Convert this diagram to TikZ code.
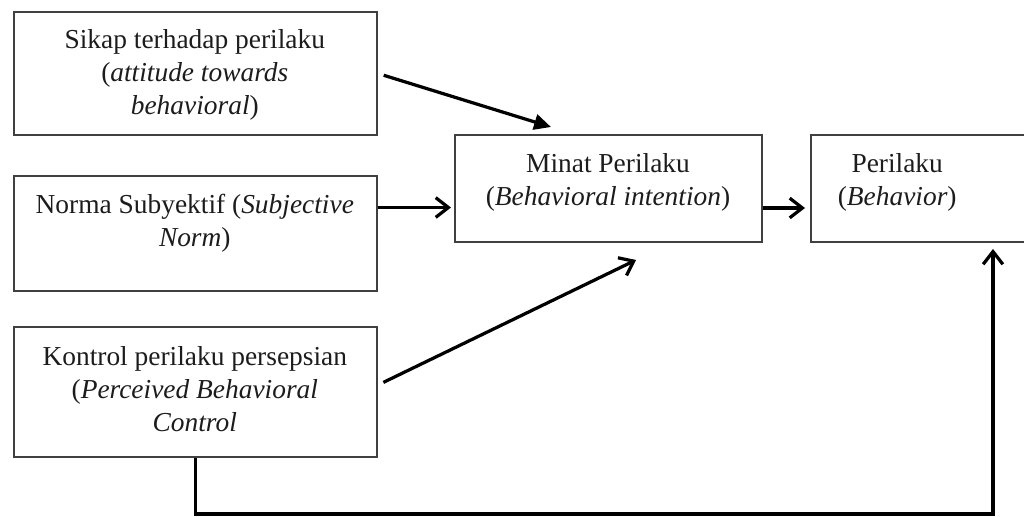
\documentclass[tikz,border=0pt]{standalone}
\usepackage{fontspec}
\setmainfont{Liberation Serif}
\definecolor{tpbBorder}{HTML}{404040}
\definecolor{tpbInk}{HTML}{1C1C1C}
\usetikzlibrary{calc,arrows.meta}

\begin{document}
\begin{tikzpicture}[
  tpbBox/.style={draw=tpbBorder, line width=1.4pt, minimum width=9.075cm},
  tpbText/.style={font=\fontsize{19.5}{23.5}\selectfont, text=tpbInk, align=center},
  link/.style={line width=2.3pt, -{Straight Barb[length=9pt,width=14pt]}},
]
  \useasboundingbox (0,0) rectangle (25.6,12.9);
  % three determinant boxes on the left
  \node[tpbBox, minimum height=3.075cm] (att) at (4.8875,11.0625) {};
  \node[tpbBox, minimum height=2.875cm] (norm) at (4.8875,7.0625) {};
  \node[tpbBox, minimum height=3.25cm] (pbc) at (4.8875,3.1) {};
  % intention and behaviour
  \node[tpbBox, minimum width=7.675cm, minimum height=2.675cm] (int) at (15.2125,8.1875) {};
  \node[tpbBox, minimum width=5.6cm, minimum height=2.675cm] (beh) at (23.075,8.1875) {};
  % box texts
  \node[tpbText] (att-t) at (4.87,11.03) {Sikap terhadap perilaku\\(\textit{attitude towards}\\\textit{behavioral})};
  \node[tpbText] (norm-t) at (4.87,7.33) {Norma Subyektif (\textit{Subjective}\\\textit{Norm})};
  \node[tpbText] (pbc-t) at (4.87,3.18) {Kontrol perilaku persepsian\\(\textit{Perceived Behavioral}\\\textit{Control}};
  \node[tpbText] (int-t) at (15.2,8.35) {Minat Perilaku\\(\textit{Behavioral intention})};
  \node[tpbText] (beh-t) at (22.43,8.35) {Perilaku\\(\textit{Behavior})};
  % arrow ends
  \coordinate (a1e) at ($(int.north west)+(2.425,0.175)$);
  \coordinate (a2e) at ($(int.west)+(-0.075,-0.475)$);
  \coordinate (a3e) at ($(int.south west)+(4.55,-0.425)$);
  \coordinate (a5c) at (24.825,0.05);
  % arrows
  \draw[line width=2.3pt, shorten <=0.15cm, -{Triangle[length=12pt,width=11pt]}] (att.east) -- (a1e);
  \draw[link] (norm.east |- a2e) -- (a2e);
  \draw[link, shorten <=0.15cm] ($(pbc.east)+(0,0.175)$) -- (a3e);
  \draw[link, shorten >=0.125cm] ($(int.east)+(0,-0.4875)$) -- ($(beh.west)+(0,-0.4875)$);
  \draw[link, shorten >=0.15cm] (pbc.south) |- (a5c) -- (a5c |- beh.south);
\end{tikzpicture}
\end{document}
